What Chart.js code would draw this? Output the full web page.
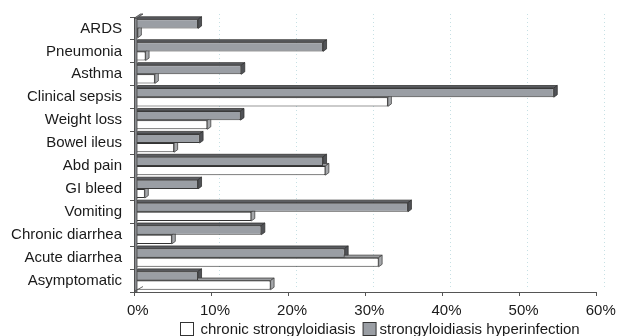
<!DOCTYPE html>
<html><head><meta charset="utf-8">
<script src="https://cdn.jsdelivr.net/npm/chart.js@4/dist/chart.umd.min.js"></script>
<style>html,body{margin:0;padding:0;background:#fff}#wrap{width:618px;height:336px}</style>
</head><body><div id="wrap"><canvas id="c" width="618" height="336"></canvas></div>
<script>
const categories = ['ARDS','Pneumonia','Asthma','Clinical sepsis','Weight loss','Bowel ileus','Abd pain','GI bleed','Vomiting','Chronic diarrhea','Acute diarrhea','Asymptomatic'];
const chronic = [0.5, 1.5, 2.7, 32.9, 9.5, 5.2, 24.8, 1.4, 15.2, 4.9, 31.7, 17.7];
const hyperinfection = [8.3, 24.5, 13.9, 54.4, 13.8, 8.5, 24.5, 8.3, 35.5, 16.5, 27.3, 8.3];
const xTicks = [0, 10, 20, 30, 40, 50, 60];
const seriesNames = ['strongyloidiasis hyperinfection', 'chronic strongyloidiasis'];

const FONT = "'Liberation Sans', Arial, sans-serif";
const FS = 15;
const TXT = '#1a1a1a';
const faces = [
  {top: '#5c5e62', side: '#505256', edge: '#333'},
  {top: '#9a9c9f', side: '#a6a8ab', edge: '#444'}
];

const depth3d = {
  id: 'depth3d',
  beforeDatasetsDraw(chart) {
    const ctx = chart.ctx, xs = chart.scales.x, ca = chart.chartArea;
    ctx.save();
    ctx.strokeStyle = '#c6e0e4';
    ctx.lineWidth = 1;
    ctx.setLineDash([1, 3]);
    xTicks.slice(1).forEach(v => {
      const px = Math.round(xs.getPixelForValue(v) + 7.5) + 0.5;
      ctx.beginPath(); ctx.moveTo(px, ca.top - 3); ctx.lineTo(px, ca.bottom - 5); ctx.stroke();
    });
    ctx.setLineDash([]);
    const dx = 3.5, dy = 2.5;
    chart.data.datasets.forEach((ds, i) => {
      const meta = chart.getDatasetMeta(i);
      const f = faces[i];
      meta.data.forEach(el => {
        const p = el.getProps(['x', 'y', 'base', 'height'], true);
        const top = p.y - p.height / 2, bot = p.y + p.height / 2;
        ctx.lineWidth = 0.8; ctx.strokeStyle = f.edge;
        ctx.fillStyle = f.top;
        ctx.beginPath(); ctx.moveTo(p.base, top); ctx.lineTo(p.base + dx, top - dy);
        ctx.lineTo(p.x + dx, top - dy); ctx.lineTo(p.x, top); ctx.closePath(); ctx.fill(); ctx.stroke();
        ctx.fillStyle = f.side;
        ctx.beginPath(); ctx.moveTo(p.x, top); ctx.lineTo(p.x + dx, top - dy);
        ctx.lineTo(p.x + dx, bot - dy); ctx.lineTo(p.x, bot); ctx.closePath(); ctx.fill(); ctx.stroke();
      });
    });
    ctx.restore();
  },
  afterDatasetsDraw(chart) {
    const ctx = chart.ctx, xs = chart.scales.x, ca = chart.chartArea;
    const x0 = xs.getPixelForValue(0);
    ctx.save();
    ctx.fillStyle = '#8a8c90'; ctx.strokeStyle = '#444'; ctx.lineWidth = 0.8;
    ctx.beginPath(); ctx.rect(x0 + 0.5, ca.top + 1, 2.5, ca.bottom - ca.top - 1); ctx.fill(); ctx.stroke();
    ctx.beginPath(); ctx.moveTo(x0 + 0.5, ca.top + 1); ctx.lineTo(x0 + 6.5, ca.top - 3);
    ctx.lineTo(x0 + 9, ca.top - 3); ctx.lineTo(x0 + 3, ca.top + 1); ctx.closePath(); ctx.fill(); ctx.stroke();
    ctx.beginPath(); ctx.moveTo(x0 + 1, ca.bottom - 1); ctx.lineTo(x0 + 9, ca.bottom - 5.5); ctx.stroke();
    ctx.restore();
  },
  afterDraw(chart) {
    const ctx = chart.ctx;
    const order = [1, 0];
    ctx.save();
    ctx.font = FS + 'px ' + FONT;
    ctx.textBaseline = 'middle';
    let x = 180.5;
    const boxW = 13, boxH = 13, by = 322.5, ty = 329.5;
    order.forEach((di, k) => {
      const ds = chart.data.datasets[di];
      ctx.fillStyle = ds.backgroundColor;
      ctx.fillRect(x, by, boxW, boxH);
      ctx.strokeStyle = '#333'; ctx.lineWidth = 1;
      ctx.strokeRect(x, by, boxW, boxH);
      const tx = x + boxW + (k === 0 ? 7 : 3.5);
      ctx.fillStyle = TXT;
      ctx.fillText(ds.label, tx, ty);
      x = tx + ctx.measureText(ds.label).width + 7.5;
    });
    ctx.restore();
  }
};

new Chart(document.getElementById('c'), {
  type: 'bar',
  data: {
    labels: categories,
    datasets: [
      {label: seriesNames[0], data: hyperinfection, backgroundColor: '#9a9ea4', borderColor: '#3a3a3a', borderWidth: 1, categoryPercentage: 0.8, barPercentage: 1.0},
      {label: seriesNames[1], data: chronic, backgroundColor: '#ffffff', borderColor: '#333333', borderWidth: 1, categoryPercentage: 0.8, barPercentage: 1.0}
    ]
  },
  options: {
    indexAxis: 'y',
    responsive: false,
    animation: false,
    devicePixelRatio: 1,
    layout: {padding: {left: 0, right: 20, top: 15, bottom: 16}},
    plugins: {
      legend: {display: false},
      tooltip: {enabled: false}
    },
    scales: {
      x: {
        min: 0, max: 60,
        afterBuildTicks: s => { s.ticks = xTicks.map(v => ({value: v})); },
        afterFit: s => { s.height = 28; },
        ticks: {callback: v => v + '%', labelOffset: 3.8, padding: 6, color: TXT, font: {family: FONT, size: FS}, maxRotation: 0},
        grid: {drawOnChartArea: false, drawTicks: true, tickLength: 4, tickColor: '#555', color: '#555'},
        border: {display: true, color: '#555', width: 1}
      },
      y: {
        afterFit: s => { s.width = 134; },
        ticks: {padding: 8, color: TXT, font: {family: FONT, size: FS}, autoSkip: false},
        grid: {offset: true, drawOnChartArea: false, drawTicks: true, tickLength: 4, tickColor: '#555', color: '#555'},
        border: {display: true, color: '#555', width: 1}
      }
    }
  },
  plugins: [depth3d]
});
</script></body></html>
